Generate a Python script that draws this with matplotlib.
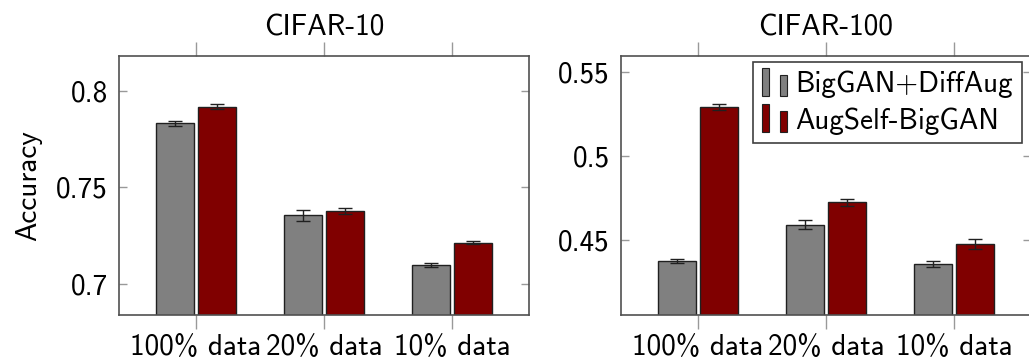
import matplotlib
matplotlib.use("Agg")
import matplotlib.pyplot as plt
import numpy as np
from matplotlib.patches import Rectangle
from matplotlib.legend_handler import HandlerBase

# --- data ---
kategori = ["100% data", "20% data", "10% data"]
seri = ["BigGAN+DiffAug", "AugSelf-BigGAN"]

c10_diffaug = [0.7833, 0.7355, 0.7100]
c10_diffaug_err = [0.0013, 0.0028, 0.0010]
c10_augself = [0.7917, 0.7380, 0.7215]
c10_augself_err = [0.0013, 0.0016, 0.0008]

c100_diffaug = [0.4379, 0.4593, 0.4358]
c100_diffaug_err = [0.0012, 0.0025, 0.0018]
c100_augself = [0.5290, 0.4725, 0.4480]
c100_augself_err = [0.0017, 0.0022, 0.0030]

warna = ["#808080", "#800000"]

plt.rcParams['font.family'] = ['cmss10', 'DejaVu Sans']
plt.rcParams['mathtext.fontset'] = 'cm'
plt.rcParams['axes.unicode_minus'] = False
FS = 21


# legend ala pgfplots: dua batang kecil
class HandlerDuaBatang(HandlerBase):
    def create_artists(self, legend, orig_handle, xdescent, ydescent,
                       width, height, fontsize, trans):
        fc = orig_handle.get_facecolor()
        w = width * 0.26
        x0 = -xdescent
        y0 = -ydescent - height * 0.15
        r1 = Rectangle((x0, y0), w, height * 1.35, facecolor=fc,
                       edgecolor="#202020", lw=0.8, transform=trans)
        r2 = Rectangle((x0 + w * 2.5, y0), w, height * 1.0, facecolor=fc,
                       edgecolor="#202020", lw=0.8, transform=trans)
        return [r1, r2]


def gambar_panel(ax, judul, v1, e1, v2, e2, ylim, yticks, yticklabels):
    x = np.arange(len(kategori))
    lebar = 0.293
    off = 0.164
    ekw = dict(elinewidth=1.0, capthick=1.0, ecolor="#202020")
    b1 = ax.bar(x - off, v1, lebar, yerr=e1, color=warna[0], edgecolor="#202020",
                linewidth=1.0, capsize=5, error_kw=ekw, label=seri[0], zorder=2)
    b2 = ax.bar(x + off, v2, lebar, yerr=e2, color=warna[1], edgecolor="#202020",
                linewidth=1.0, capsize=5, error_kw=ekw, label=seri[1], zorder=2)
    ax.set_xlim(-0.6, 2.6)
    ax.set_ylim(*ylim)
    ax.set_xticks(x)
    ax.set_xticklabels(kategori, fontsize=FS)
    ax.set_yticks(yticks)
    ax.set_yticklabels(yticklabels, fontsize=FS)
    ax.tick_params(axis='x', top=True, bottom=True, direction='out', length=10,
                   width=1.0, color="#999999", pad=4)
    ax.tick_params(axis='y', left=True, right=True, direction='in', length=6,
                   width=1.0, color="#999999", pad=8)
    for s in ax.spines.values():
        s.set_color("#505050")
        s.set_linewidth(1.2)
    ax.set_title(judul, fontsize=FS, pad=15)
    return b1, b2


fig = plt.figure(figsize=(10.29, 3.61), dpi=100)
ax1 = fig.add_axes([0.1157, 0.1274, 0.3984, 0.7175])
ax2 = fig.add_axes([0.6035, 0.1274, 0.3984, 0.7175])

gambar_panel(ax1, "CIFAR-10", c10_diffaug, c10_diffaug_err, c10_augself, c10_augself_err,
             (0.684, 0.818), [0.7, 0.75, 0.8], ["0.7", "0.75", "0.8"])
b1, b2 = gambar_panel(ax2, "CIFAR-100", c100_diffaug, c100_diffaug_err, c100_augself,
                      c100_augself_err, (0.4057, 0.5593), [0.45, 0.5, 0.55],
                      ["0.45", "0.5", "0.55"])
ax1.set_ylabel("Accuracy", fontsize=FS, labelpad=10)

leg = ax2.legend([b1.patches[0], b2.patches[0]], seri, loc="upper right",
                 bbox_to_anchor=(0.978, 0.976), fontsize=FS, frameon=True, fancybox=False,
                 framealpha=1, edgecolor="#404040", borderpad=0.3, labelspacing=0.3,
                 handlelength=0.95, handletextpad=0.2, borderaxespad=0.0,
                 handler_map={Rectangle: HandlerDuaBatang()})
leg.get_frame().set_linewidth(1.2)

fig.savefig("out.png", dpi=100)
